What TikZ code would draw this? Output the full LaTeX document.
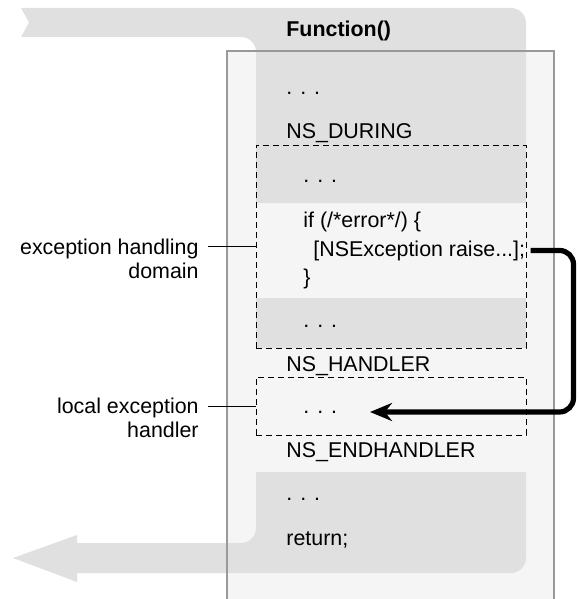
\documentclass[tikz,border=0pt]{standalone}
\usepackage{fontspec}
\setmainfont{Liberation Sans}
\usetikzlibrary{arrows.meta}
\definecolor{blockgray}{gray}{0.88}
\definecolor{panelgray}{gray}{0.96}
\definecolor{framegray}{gray}{0.6}
\tikzset{
  codeline/.style={anchor=base west,inner sep=0pt,font=\fontsize{10.7}{12}\selectfont},
  callout/.style={anchor=north east,align=right,inner xsep=4.5pt,inner ysep=0pt,font=\fontsize{10.7}{12}\selectfont},
  dashbox/.style={draw,dash pattern=on 3.2pt off 1.8pt,line width=0.5pt,minimum width=135pt,inner sep=0pt},
  throwline/.style={line width=2.6pt,rounded corners=7pt,-{Stealth[length=11pt,width=9pt]}}
}
\begin{document}
\begin{tikzpicture}[x=0.5pt,y=-0.5pt]
\useasboundingbox (0,0) rectangle (579,599);
\fill[panelgray] (227,51) rectangle (554,605);
\fill[blockgray] (29,22.5) -- (21,8) [rounded corners=7.5pt] -- (526,8) [sharp corners] -- (526,203) -- (256,203) [rounded corners=7.5pt] -- (256,37) [sharp corners] -- (21,37) -- cycle;
\fill[blockgray] (256,298) rectangle (526,348);
\fill[blockgray] (256,472) -- (526,472) [rounded corners=7.5pt] -- (526,573) [sharp corners] -- (77,573) -- (77,582) -- (13,558) -- (77,535) -- (77,543) [rounded corners=7.5pt] -- (256,543) [sharp corners] -- cycle;
\draw[framegray,line width=0.75pt] (227,605) -- (227,51) -- (554,51) -- (554,605);

\node[codeline,font=\fontsize{10.7}{12}\selectfont\bfseries] (fname) at (286,37) {Function()};
\node[codeline] (dots1) at (286,95) {. . .};
\node[codeline] (during) at (286,138) {NS\_DURING};
\node[codeline] (dots2) at (303,182) {. . .};
\node[codeline] (iferr) at (303,227) {if (/*error*/) \{};
\node[codeline] (raise) at (313,256) {[NSException raise...];};
\node[codeline] (brace) at (303,284) {\}};
\node[codeline] (dots3) at (303,327) {. . .};
\node[codeline] (handler) at (286,371) {NS\_HANDLER};
\node[codeline] (dots4) at (303,413) {. . .};
\node[codeline] (endhandler) at (286,457) {NS\_ENDHANDLER};
\node[codeline] (dots5) at (286,500) {. . .};
\node[codeline] (ret) at (286,545) {return;};

\node[dashbox,minimum height=101.5pt] (domain) at (391,246.5) {};
\node[dashbox,minimum height=29pt] (localh) at (391,406) {};

\node[callout] (domlab) at (208,239) {exception handling\\domain};
\node[callout] (loclab) at (208,398) {local exception\\handler};
\draw[line width=0.5pt] (domlab.east |- domain.west) -- (domain.west);
\draw[line width=0.5pt] (loclab.east |- localh.west) -- (localh.west);

\coordinate (catch) at (370,412);
\draw[throwline] ([xshift=2.5pt]raise.east) -- ++(21.5pt,0) |- (catch);
\end{tikzpicture}
\end{document}
